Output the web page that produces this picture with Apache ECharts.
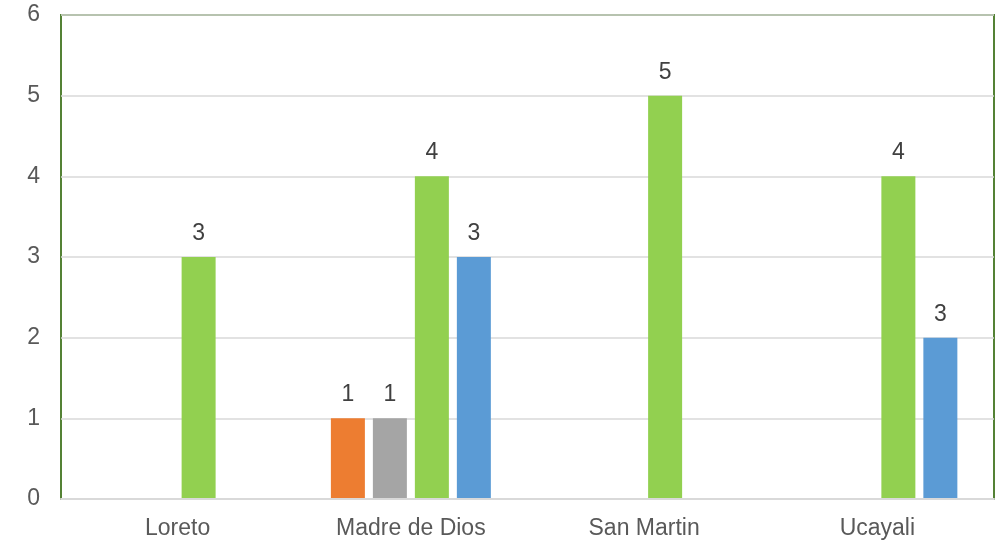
<!DOCTYPE html>
<html>
<head>
<meta charset="utf-8">
<script src="https://cdn.jsdelivr.net/npm/echarts@6/dist/echarts.min.js"></script>
<style>html,body{margin:0;padding:0;background:#fff}#c{width:1002px;height:541px}</style>
</head>
<body>
<div id="c"></div>
<script>
var categories = ['Loreto', 'Madre de Dios', 'San Martin', 'Ucayali'];
var orangeValues = [null, 1, null, null];
var grayValues = [null, 1, null, null];
var greenValues = [3, 4, 5, 4];
var blueValues = [null, 3, null, 2];
var blueLabels = [null, 3, null, 3];
var yTicks = [0, 1, 2, 3, 4, 5, 6];

var chart = echarts.init(document.getElementById('c'), null, {renderer: 'canvas'});
var font = '"Liberation Sans", Arial, sans-serif';
function mk(name, color, vals, labels) {
  return {
    name: name, type: 'bar', data: vals,
    barWidth: 34, barGap: '23.5%',
    itemStyle: {color: color},
    label: {
      show: true, position: 'top', distance: 12,
      fontFamily: font, fontSize: 23, color: '#404040',
      formatter: function (p) { var v = labels ? labels[p.dataIndex] : p.value; return v == null ? '' : String(v); }
    },
    z: 3
  };
}
chart.setOption({
  animation: false,
  grid: {left: 61, right: 8, top: 15, bottom: 42, show: true, borderColor: '#548235', borderWidth: 2, backgroundColor: 'transparent'},
  xAxis: {
    type: 'category', data: categories,
    axisLine: {show: true, lineStyle: {color: '#d9d9d9', width: 2}},
    axisTick: {show: false},
    axisLabel: {fontFamily: font, fontSize: 23, color: '#595959', margin: 18},
    z: 5
  },
  yAxis: {
    type: 'value', min: 0, max: 6, interval: 1,
    axisLine: {show: false}, axisTick: {show: false},
    splitLine: {lineStyle: {color: '#d9d9d9', width: 1.5}},
    axisLabel: {fontFamily: font, fontSize: 23, color: '#595959', margin: 21,
      formatter: function (v) { return yTicks.indexOf(v) >= 0 ? String(v) : ''; }}
  },
  series: [
    mk('A', '#ed7d31', orangeValues),
    mk('B', '#a5a5a5', grayValues),
    mk('C', '#92d050', greenValues),
    mk('D', '#5b9bd5', blueValues, blueLabels)
  ]
});
</script>
</body>
</html>
